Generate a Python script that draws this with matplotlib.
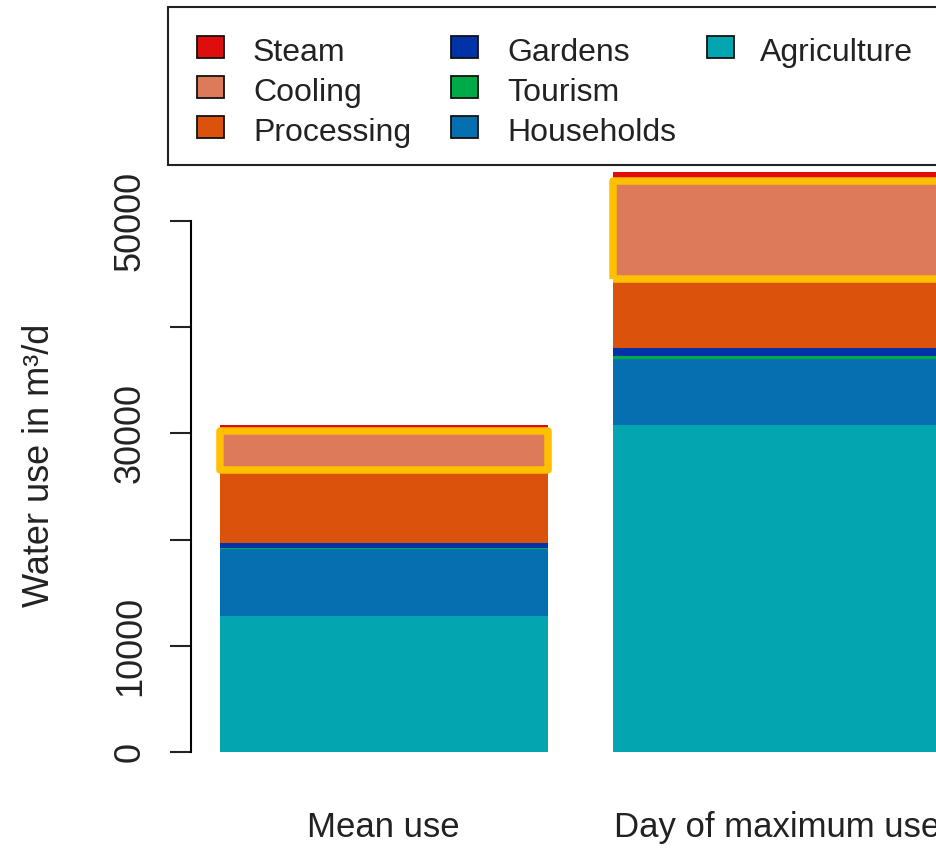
import matplotlib
matplotlib.use('Agg')
import matplotlib.pyplot as plt
from matplotlib.patches import Rectangle
import numpy as np

# ---------------- data ----------------
categories = ['Mean use', 'Day of maximum use']
# stacked from bottom to top
series_names = ['Agriculture', 'Households', 'Tourism', 'Gardens',
                'Processing', 'Cooling', 'Steam']
agriculture = [12800, 30790]
households = [6280, 6240]
tourism = [160, 250]
gardens = [470, 725]
processing = [6810, 6500]
cooling = [3740, 9260]
steam = [500, 880]
series_values = [agriculture, households, tourism, gardens,
                 processing, cooling, steam]
series_colors = ['#03A6B0', '#066FB0', '#00AA46', '#0033AA',
                 '#DB520C', '#DC7A5A', '#DF0D0D']
highlight_series = 'Cooling'
highlight_color = '#FFC000'

ytick_values = [0, 10000, 20000, 30000, 40000, 50000]
ytick_labels = ['0', '10000', '', '30000', '', '50000']
ylabel = 'Water use in m³/d'

# ---------------- figure ----------------
plt.rcParams['font.family'] = ['Liberation Sans', 'DejaVu Sans']
W, H = 936, 848
fig = plt.figure(figsize=(W / 100, H / 100), dpi=100)

totals = np.sum(np.array(series_values), axis=0)
ymax = totals.max()
ylim = (-0.04 * ymax, 1.04 * ymax)

# R-like bar positions: width 1, space 0.2
bar_x = np.array([0.7, 1.9])
xlim = (0.2 - 0.088, 2.4 + 0.088)

# axes placement in pixels (plot region partially cropped on the right)
px_left, px_right = 191, 970
px_zero, px_50k = 752, 221
ppu = (px_zero - px_50k) / 50000.0
px_bottom = px_zero + (0 - ylim[0]) * ppu
px_top = px_zero - (ylim[1]) * ppu
ax = fig.add_axes([px_left / W, 1 - px_bottom / H,
                   (px_right - px_left) / W, (px_bottom - px_top) / H])
ax.set_xlim(*xlim)
ax.set_ylim(*ylim)

bottom = np.zeros(len(categories))
for name, vals, col in zip(series_names, series_values, series_colors):
    vals = np.array(vals, dtype=float)
    ax.bar(bar_x, vals, width=1.0, bottom=bottom, color=col,
           linewidth=0, clip_on=False)
    if name == highlight_series:
        for xi, b, v in zip(bar_x, bottom, vals):
            ax.add_patch(Rectangle((xi - 0.5, b), 1.0, v, fill=False,
                                   edgecolor=highlight_color, linewidth=5.4,
                                   joinstyle='round', clip_on=False, zorder=5))
    bottom += vals

for s in ['top', 'right', 'bottom']:
    ax.spines[s].set_visible(False)
ax.spines['left'].set_bounds(0, 50000)
ax.spines['left'].set_linewidth(1.5)
ax.set_yticks(ytick_values, ytick_labels)
ax.tick_params(axis='y', length=15, width=1.5, pad=16, labelsize=26,
               labelrotation=90, colors='#222222')
for lbl in ax.get_yticklabels():
    lbl.set_va('center')
ax.set_xticks(bar_x, categories)
ax.tick_params(axis='x', length=0, pad=26, labelsize=25, colors='#222222')

fig.text(40 / W, 1 - 465 / H, ylabel, rotation=90, ha='center', va='center',
         fontsize=26, color='#222222')

# ---------------- legend (R style, top) ----------------
fig.add_artist(Rectangle((168 / W, 1 - 165 / H), 825 / W, 158 / H,
                         transform=fig.transFigure, fill=True,
                         facecolor='white', edgecolor='#222222',
                         linewidth=1.5, zorder=10))
legend_names = series_names[::-1]
legend_colors = series_colors[::-1]
sq_left = [197, 451, 707]
txt_left = [253, 507, 760]
row_center = [47, 87, 127]
for i, (name, col) in enumerate(zip(legend_names, legend_colors)):
    c, r = i // 3, i % 3
    fig.add_artist(Rectangle((sq_left[c] / W, 1 - (row_center[r] + 11) / H),
                             27 / W, 22 / H, transform=fig.transFigure,
                             facecolor=col, edgecolor='#111111',
                             linewidth=1.3, zorder=11))
    fig.text(txt_left[c] / W, 1 - (row_center[r] + 14) / H, name,
             ha='left', va='baseline', fontsize=23, color='#222222',
             zorder=12)

fig.savefig('out.png', dpi=100)
